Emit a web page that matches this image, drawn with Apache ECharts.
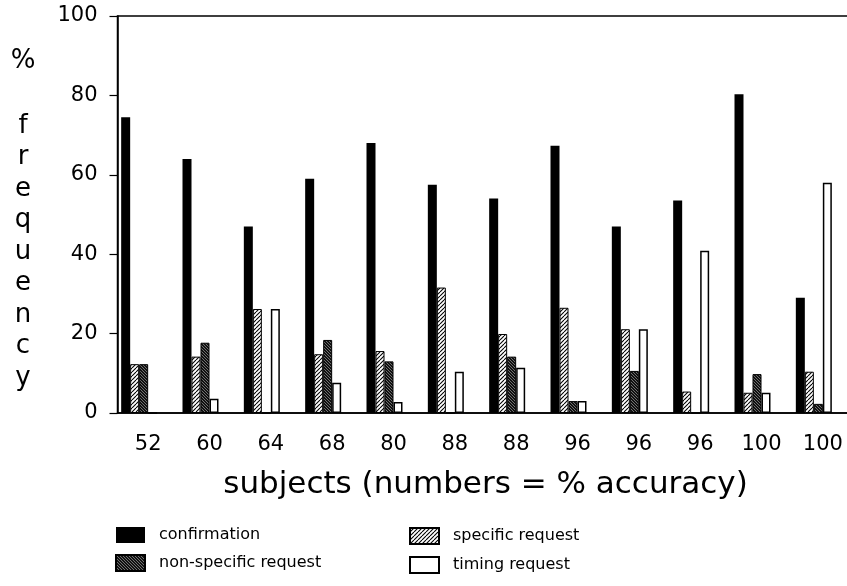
<!DOCTYPE html>
<html>
<head>
<meta charset="utf-8">
<script src="https://cdn.jsdelivr.net/npm/echarts@6/dist/echarts.min.js"></script>
<style>
  html, body { margin: 0; padding: 0; background: #fff; }
  #chart { width: 847px; height: 586px; }
</style>
</head>
<body>
<div id="chart"></div>
<script>
// subjects, labelled by their % accuracy
const categories = ["52", "60", "64", "68", "80", "88", "88", "96", "96", "96", "100", "100"];
const confirmation = [74.5, 64, 47, 59, 68, 57.5, 54, 67.3, 47, 53.5, 80.3, 29];
const specificRequest = [12.3, 14.2, 26.2, 14.8, 15.6, 31.6, 19.9, 26.5, 21.1, 5.4, 5.1, 10.4];
const nonSpecificRequest = [12.3, 17.7, 0, 18.4, 13, 0, 14.2, 3, 10.6, 0, 9.8, 2.3];
const timingRequest = [0, 3.6, 26.2, 7.6, 2.8, 10.4, 11.4, 3, 21.1, 40.9, 5.1, 58];
const yTicks = [0, 20, 40, 60, 80, 100];

const FONT = "DejaVu Sans";

// hatch patterns drawn on small canvases
function makePattern(size, bg, fg, lw, dir) {
  const c = document.createElement("canvas");
  c.width = size;
  c.height = size;
  const ctx = c.getContext("2d");
  ctx.fillStyle = bg;
  ctx.fillRect(0, 0, size, size);
  ctx.strokeStyle = fg;
  ctx.lineWidth = lw;
  for (let k = -size; k <= size; k += size) {
    ctx.beginPath();
    if (dir === "/") {
      ctx.moveTo(k, size);
      ctx.lineTo(k + size, 0);
    } else {
      ctx.moveTo(k, 0);
      ctx.lineTo(k + size, size);
    }
    ctx.stroke();
  }
  return { image: c, repeat: "repeat" };
}

const hatchLight = makePattern(4, "#fff", "#000", 1.1, "/");
const hatchDark = makePattern(3, "#111", "#8a8a8a", 0.8, "\\");

const myChart = echarts.init(document.getElementById("chart"), null, { renderer: "canvas" });

// grid 0 holds the bars, grid 1 the visible axes (bars sit 9px left of each tick)
const gridTop = 16;
const gridHeight = 397;
const gridWidth = 736;

function barSeries(name, data, itemStyle) {
  return {
    name: name,
    type: "bar",
    xAxisIndex: 0,
    yAxisIndex: 0,
    data: data,
    barWidth: 9,
    barGap: "0%",
    itemStyle: itemStyle,
    emphasis: { disabled: true }
  };
}

const legendText = {
  fontFamily: FONT,
  fontSize: 16,
  color: "#000",
  padding: [0, 0, 0, 9]
};

let option = {
  animation: false,
  backgroundColor: "#fff",
  grid: [
    { left: 108.5, top: gridTop, width: gridWidth, height: gridHeight, outerBoundsMode: "none" },
    {
      left: 117.5,
      top: gridTop,
      width: gridWidth,
      height: gridHeight,
      outerBoundsMode: "none",
      show: true,
      borderColor: "#000",
      borderWidth: 1.5,
      backgroundColor: "transparent"
    }
  ],
  legend: [
    {
      orient: "vertical",
      left: 115,
      top: 527,
      padding: 0,
      itemWidth: 29,
      itemHeight: 16,
      itemGap: 11,
      icon: "rect",
      selectedMode: false,
      data: ["confirmation", "non-specific request"],
      textStyle: legendText
    },
    {
      orient: "vertical",
      left: 409,
      top: 527,
      padding: 0,
      itemWidth: 29,
      itemHeight: 16,
      itemGap: 11,
      icon: "rect",
      selectedMode: false,
      data: ["specific request", "timing request"],
      textStyle: legendText
    }
  ],
  xAxis: [
    {
      type: "category",
      gridIndex: 0,
      data: categories,
      show: false
    },
    {
      type: "category",
      gridIndex: 1,
      data: categories,
      axisLine: { lineStyle: { color: "#000", width: 1.5 } },
      axisTick: { alignWithLabel: true, length: 8, lineStyle: { color: "#000", width: 1.2 } },
      axisLabel: { fontFamily: FONT, fontSize: 21, color: "#000", margin: 21 },
      name: "subjects (numbers = % accuracy)",
      nameLocation: "middle",
      nameGap: 56,
      nameTextStyle: { fontFamily: FONT, fontSize: 31, color: "#000" }
    }
  ],
  yAxis: [
    {
      type: "value",
      gridIndex: 0,
      min: 0,
      max: 100,
      show: false,
      splitLine: { show: false }
    },
    {
      type: "value",
      gridIndex: 1,
      min: yTicks[0],
      max: yTicks[yTicks.length - 1],
      interval: yTicks[1] - yTicks[0],
      axisLine: { show: true, lineStyle: { color: "#000", width: 1.5 } },
      axisTick: { show: true, length: 8, lineStyle: { color: "#000", width: 1.2 } },
      axisLabel: { fontFamily: FONT, fontSize: 21, color: "#000", margin: 20 },
      splitLine: { show: false }
    }
  ],
  graphic: [
    {
      type: "text",
      x: 23,
      y: 61,
      style: {
        text: "%",
        fontFamily: FONT,
        fontSize: 26,
        fill: "#000",
        align: "center",
        verticalAlign: "middle"
      }
    },
    {
      type: "text",
      x: 23,
      y: 110,
      style: {
        text: "f\nr\ne\nq\nu\ne\nn\nc\ny",
        fontFamily: FONT,
        fontSize: 26,
        lineHeight: 31.5,
        fill: "#000",
        align: "center",
        verticalAlign: "top"
      }
    }
  ],
  series: [
    barSeries("confirmation", confirmation, { color: "#000" }),
    barSeries("specific request", specificRequest, { color: hatchLight, borderColor: "#000", borderWidth: 1 }),
    barSeries("non-specific request", nonSpecificRequest, { color: hatchDark, borderColor: "#000", borderWidth: 1 }),
    barSeries("timing request", timingRequest, { color: "#fff", borderColor: "#000", borderWidth: 1.5 })
  ]
};

myChart.setOption(option);
window.addEventListener("resize", function () {
  myChart.resize();
});
</script>
</body>
</html>
